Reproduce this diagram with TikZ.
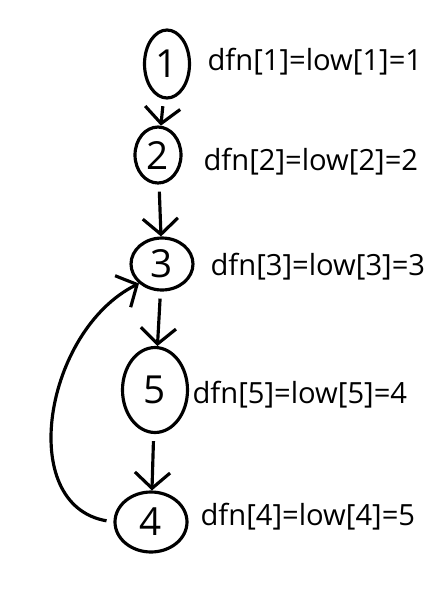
\documentclass[tikz,border=0pt]{standalone}
\usepackage{fontspec}
\setmainfont{Open Sans}
\usepackage{tikz}
\usetikzlibrary{positioning, shapes.geometric, arrows.meta}

\begin{document}
\begin{tikzpicture}[x=0.02cm, y=-0.02cm, line width=1.8pt,
    vertex/.style={draw, ellipse, inner sep=0pt, font=\fontsize{22}{24}\selectfont},
    arr/.style={-{Straight Barb[length=9pt,width=20pt,line width=1.8pt]}, shorten <=4pt},
    lbl/.style={anchor=west, inner sep=0pt, font=\fontsize{16.6}{19}\selectfont}]
  \useasboundingbox (0,0) rectangle (441,606);

  % vertices
  \node[vertex, minimum width=0.9cm, minimum height=1.36cm] (n1) at (167,64) {1};
  \node[vertex, minimum width=0.92cm, minimum height=1.12cm] (n2) at (158,155) {2};
  \node[vertex, minimum width=1.24cm, minimum height=1.04cm] (n3) at (162,264) {3};
  \node[vertex, minimum width=1.3cm, minimum height=1.7cm] (n5) at (155,390) {5};
  \node[vertex, minimum width=1.44cm, minimum height=1.2cm] (n4) at (151,522) {4};

  % labels
  \node[lbl] (l1) at (206,62) {dfn[1]=low[1]=1};
  \node[lbl] (l2) at (202,162) {dfn[2]=low[2]=2};
  \node[lbl] (l3) at (209,267) {dfn[3]=low[3]=3};
  \node[lbl] (l5) at (191,395) {dfn[5]=low[5]=4};
  \node[lbl] (l4) at (199,517) {dfn[4]=low[4]=5};

  % tree edges
  \draw[arr] (n1) -- (n2);
  \draw[arr] (n2) -- (n3);
  \draw[arr] (n3) -- (n5);
  \draw[arr] (n5) -- (n4);

  % back edge
  \draw[arr] (n4.west) .. controls (15,505) and (45,330) .. (n3.south west);
\end{tikzpicture}
\end{document}
